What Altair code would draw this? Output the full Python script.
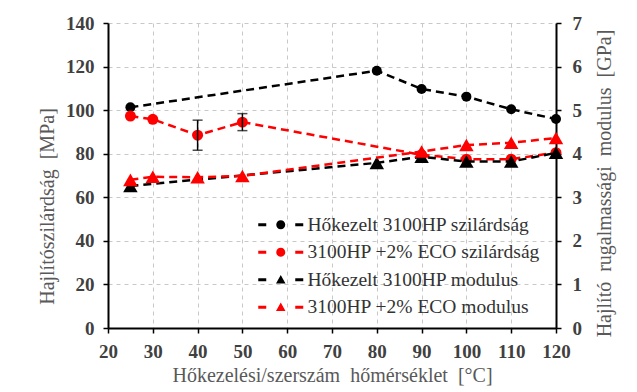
import altair as alt
import pandas as pd

# Heat-treated 3100HP
temp_ht = [25, 80, 90, 100, 110, 120]
strength_ht = [101.3, 118.1, 109.7, 106.2, 100.4, 95.9]
modulus_ht = [3.26, 3.79, 3.93, 3.82, 3.82, 4.02]

# 3100HP + 2% ECO
temp_eco = [25, 30, 40, 50, 90, 100, 110, 120]
strength_eco = [97.3, 95.8, 88.5, 94.5, 79.5, 77.5, 77.5, 80.5]
strength_eco_err = [0, 0, 6.9, 3.9, 0, 0, 0, 0]
modulus_eco = [3.40, 3.47, 3.46, 3.49, 4.05, 4.20, 4.25, 4.36]

series_labels = [
    "Hőkezelt 3100HP szilárdság",
    "3100HP +2% ECO szilárdság",
    "Hőkezelt 3100HP modulus",
    "3100HP +2% ECO modulus",
]
series_colors = ["#000000", "#ff0000", "#000000", "#ff0000"]

x_ticks = list(range(20, 121, 10))
strength_ticks = list(range(0, 141, 20))
modulus_ticks = list(range(0, 8))

FONT = "Liberation Serif"
BLACK = "#000000"
RED = "#ff0000"
DASH = [8, 5]
SP = "\u00a0\u00a0"  # wide word gap in axis titles

ht = pd.DataFrame({"temp": temp_ht, "strength": strength_ht, "modulus": modulus_ht})
eco = pd.DataFrame({"temp": temp_eco, "strength": strength_eco,
                    "err": strength_eco_err, "modulus": modulus_eco})
legend_df = pd.DataFrame({"label": series_labels})

x_enc = alt.X(
    "temp:Q",
    scale=alt.Scale(domain=[20, 120], nice=False),
    axis=alt.Axis(values=x_ticks, grid=True, labelPadding=9, titlePadding=4,
                  title=f"Hőkezelési/szerszám{SP}hőmérséklet{SP}[°C]"),
)
y_strength = alt.Y(
    "strength:Q",
    scale=alt.Scale(domain=[0, 140], nice=False),
    axis=alt.Axis(orient="left", values=strength_ticks, grid=True,
                  labelPadding=9, titlePadding=8, titleY=183,
                  title=f"Hajlítószilárdság{SP}[MPa]"),
)
y_modulus = alt.Y(
    "modulus:Q",
    scale=alt.Scale(domain=[0, 7], nice=False),
    axis=alt.Axis(orient="right", values=modulus_ticks, grid=False,
                  labelPadding=11, titleAngle=270, titleX=48, titleY=160,
                  titleAlign="center", titleBaseline="middle",
                  title=f"Hajlító{SP}rugalmassági{SP}modulus{SP}[GPa]"),
)


def dashed(df, y, color):
    return alt.Chart(df).mark_line(color=color, strokeWidth=2.5, strokeDash=DASH).encode(x=x_enc, y=y)


def markers(df, y, color, shape, size):
    return alt.Chart(df).mark_point(filled=True, opacity=1, color=color, shape=shape,
                                    size=size, strokeWidth=0).encode(x=x_enc, y=y)


# error bars on the ECO strength series
err_base = alt.Chart(eco).transform_filter("datum.err > 0").transform_calculate(
    lo="datum.strength - datum.err", hi="datum.strength + datum.err"
)
err_rule = err_base.mark_rule(color=BLACK, strokeWidth=1.5).encode(
    x=x_enc, y=alt.Y("lo:Q"), y2="hi:Q")
err_lo = err_base.mark_tick(color=BLACK, orient="horizontal", size=10, thickness=1.5).encode(
    x=x_enc, y=alt.Y("lo:Q"))
err_hi = err_base.mark_tick(color=BLACK, orient="horizontal", size=10, thickness=1.5).encode(
    x=x_enc, y=alt.Y("hi:Q"))

strength_layer = alt.layer(
    dashed(ht, y_strength, BLACK),
    markers(ht, y_strength, BLACK, "circle", 100),
    dashed(eco, y_strength, RED),
    markers(eco, y_strength, RED, "circle", 120),
    err_rule, err_lo, err_hi,
)

# legend symbols: dash - marker - dash
dash_paths = "M-4.5,-0.3 L-2.9,-0.3 L-2.9,0.3 L-4.5,0.3 Z M2.9,-0.3 L4.5,-0.3 L4.5,0.3 L2.9,0.3 Z "
circle_path = dash_paths + "M0.9,0 A0.9,0.9 0 1,1 -0.9,0 A0.9,0.9 0 1,1 0.9,0 Z"
triangle_path = dash_paths + "M0,-0.95 L0.95,0.75 L-0.95,0.75 Z"
legend_shapes = [circle_path, circle_path, triangle_path, triangle_path]

legend_spec = alt.Legend(
    orient="none", legendX=163, legendY=192, title=None, padding=0,
    labelFont=FONT, labelFontSize=19.5, labelColor="#333333", labelLimit=0,
    symbolSize=100, symbolStrokeWidth=0, labelOffset=17, rowPadding=6.5,
)
legend_layer = alt.Chart(legend_df).mark_point(filled=True, opacity=1).encode(
    color=alt.Color("label:N", scale=alt.Scale(domain=series_labels, range=series_colors),
                    legend=legend_spec, sort=series_labels),
    shape=alt.Shape("label:N", scale=alt.Scale(domain=series_labels, range=legend_shapes),
                    legend=legend_spec, sort=series_labels),
).transform_filter("false")

modulus_layer = alt.layer(
    dashed(ht, y_modulus, BLACK),
    markers(ht, y_modulus, BLACK, "triangle-up", 210),
    dashed(eco, y_modulus, RED),
    markers(eco, y_modulus, RED, "triangle-up", 210),
    legend_layer,
)

chart = (
    alt.layer(strength_layer, modulus_layer)
    .resolve_scale(y="independent")
    .properties(width=448, height=305, autosize="none",
                padding={"left": 108, "top": 23, "right": 81, "bottom": 64})
    .configure_view(stroke=None)
    .configure_axis(
        labelFont=FONT, labelFontSize=19, labelFontWeight="bold", labelColor="#404040",
        labelFlush=False, labelOverlap=False,
        titleFont=FONT, titleFontSize=20, titleFontWeight="normal", titleColor="#595959",
        domainColor=BLACK, domainWidth=2, tickColor=BLACK, tickWidth=1.5, tickSize=5,
        gridColor="#c8c8c8", gridDash=[4, 4], gridWidth=1,
    )
)

chart.save("out.html", embed_options={"renderer": "svg", "actions": False})
